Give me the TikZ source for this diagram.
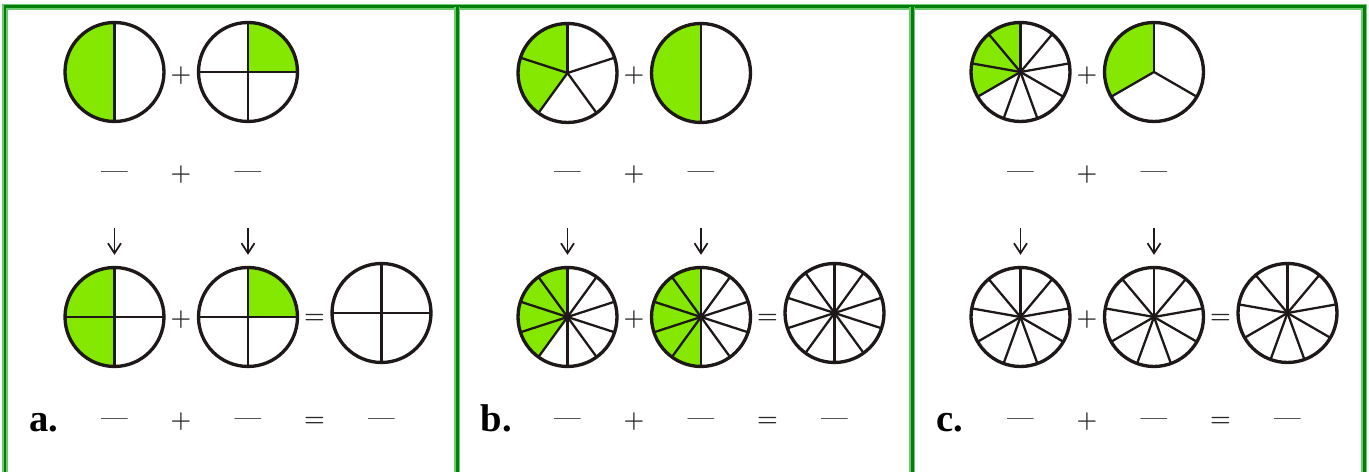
\documentclass[tikz,border=0pt]{standalone}
\usepackage{fontspec}
\newfontfamily\labelfont{Liberation Serif}
\usepackage{tikz}
\usetikzlibrary{arrows.meta}
\definecolor{PieGreen}{RGB}{133,232,0}
\definecolor{PieInk}{RGB}{30,24,24}
\definecolor{SignGray}{RGB}{40,40,40}
\definecolor{FrameGreen}{RGB}{0,128,10}
\definecolor{FrameLight}{RGB}{110,200,110}

\newcommand{\pieR}{49.5}
% fraction circle: name, x, y, parts, shaded from, shaded to
\newcommand{\fracpie}[6]{%
  \fill[PieGreen] (#2,#3) -- ++(#5:\pieR) arc[start angle=#5, end angle=#6, radius=\pieR] -- cycle;
  \foreach \k in {1,...,#4}
    \draw[spoke] (#2,#3) -- ++({90+360*\k/#4}:\pieR);
  \node[pie] (#1) at (#2,#3) {};
}

\begin{document}
\begin{tikzpicture}[x=0.02cm, y=0.02cm,
    pie/.style={circle, draw=PieInk, line width=1.9pt, minimum size=1.98cm, inner sep=0pt},
    spoke/.style={PieInk, line width=1.3pt},
    sign/.style={text=SignGray, font=\bfseries\fontsize{13.5}{16}\selectfont, inner sep=0pt},
    blank/.style={text=SignGray, font=\bfseries\fontsize{13.5}{16}\selectfont, inner sep=0pt},
    tag/.style={font=\labelfont\bfseries\fontsize{22}{26}\selectfont, inner sep=0pt},
    down/.style={PieInk, line width=1pt, shorten >=0.22cm,
                 -{Straight Barb[length=0.2cm, width=0.26cm, line width=1pt]}}
  ]
  \useasboundingbox (0,0) rectangle (1369,472);

  % Frame
  \draw[FrameLight, line width=0.12cm] (5,0) -- (5,465) -- (1364,465) -- (1364,0);
  \draw[FrameGreen, line width=0.06cm] (5,0) -- (5,465) -- (1364,465) -- (1364,0);
  \foreach \x in {457,912}{
    \draw[FrameLight, line width=0.12cm] (\x,0) -- (\x,465);
    \draw[FrameGreen, line width=0.06cm] (\x,0) -- (\x,465);
  }

  % Panel a
  \fracpie{top1-a}{114.5}{400}{2}{90}{270}
  \fracpie{top2-a}{248}{400}{4}{0}{90}
  \fracpie{low1-a}{114.5}{155}{4}{90}{270}
  \fracpie{low2-a}{248}{155}{4}{0}{90}
  \fracpie{sum-a}{381.5}{159}{4}{90}{90}

  % Panel b
  \fracpie{top1-b}{567.5}{399}{5}{90}{234}
  \fracpie{top2-b}{701}{399}{2}{90}{270}
  \fracpie{low1-b}{567.5}{155}{10}{90}{234}
  \fracpie{low2-b}{701}{155}{10}{90}{270}
  \fracpie{sum-b}{834.5}{159}{10}{90}{90}

  % Panel c
  \fracpie{top1-c}{1020.5}{400}{9}{90}{210}
  \fracpie{top2-c}{1154}{400}{3}{90}{210}
  \fracpie{low1-c}{1020.5}{155}{9}{90}{90}
  \fracpie{low2-c}{1154}{155}{9}{90}{90}
  \fracpie{sum-c}{1287.5}{159}{9}{90}{90}

  % Signs, blanks and arrows, same in every panel
  \foreach \p/\dx in {a/0, b/453, c/906}{
    \node[sign] (plus1-\p) at (181+\dx,396) {+};
    % blanks under the circles
    \node[blank] (blank1-\p) at (114.5+\dx,297) {—};
    \node[sign] (plus2-\p) at (181+\dx,297) {+};
    \node[blank] (blank2-\p) at (248+\dx,297) {—};
    % arrows down
    \coordinate (tail1-\p) at (114.5+\dx,244);
    \coordinate (tail2-\p) at (248+\dx,244);
    \draw[down] (tail1-\p) -- (low1-\p);
    \draw[down] (tail2-\p) -- (low2-\p);
    % second row
    \node[sign] (plus3-\p) at (181+\dx,152) {+};
    \node[sign] (eq1-\p) at (314.5+\dx,153) {=};
    % answer row
    \node[tag, anchor=base] (tag-\p) at (43.5+\dx,40) {\p.};
    \node[blank] (blank3-\p) at (114.5+\dx,50) {—};
    \node[sign] (plus4-\p) at (181+\dx,50) {+};
    \node[blank] (blank4-\p) at (248+\dx,50) {—};
    \node[sign] (eq2-\p) at (314.5+\dx,50) {=};
    \node[blank] (blank5-\p) at (381.5+\dx,50) {—};
  }
\end{tikzpicture}
\end{document}
